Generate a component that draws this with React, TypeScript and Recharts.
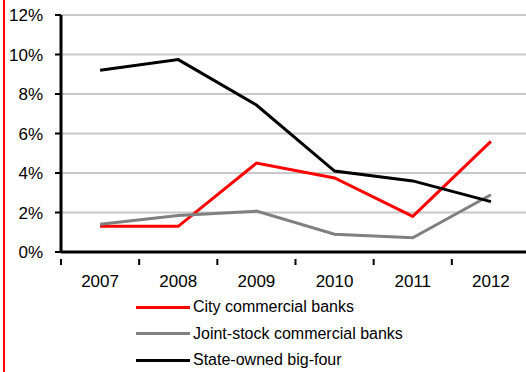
import { LineChart, Line, XAxis, YAxis, CartesianGrid } from "recharts";

const years = ["2007", "2008", "2009", "2010", "2011", "2012"];
const cityBanks = [1.3, 1.3, 4.5, 3.75, 1.8, 5.6];
const jointStock = [1.4, 1.85, 2.07, 0.9, 0.72, 2.9];
const bigFour = [9.2, 9.74, 7.44, 4.1, 3.6, 2.55];
const yTicks = [0, 2, 4, 6, 8, 10, 12];

const series = [
  { key: "city", name: "City commercial banks", color: "#ff0000" },
  { key: "joint", name: "Joint-stock commercial banks", color: "#808080" },
  { key: "big", name: "State-owned big-four", color: "#000000" },
];

const data = years.map((year, i) => ({
  year,
  city: cityBanks[i],
  joint: jointStock[i],
  big: bigFour[i],
}));

const FONT = "'Liberation Sans', Arial, sans-serif";

/** Category label plus a tick mark at the left edge of each band. */
function YearTick(props: any) {
  const { x, y, payload } = props;
  const half = payload?.offset || 39;
  return (
    <g>
      <line x1={x - half} x2={x - half} y1={y - 1} y2={y + 5} stroke="#000" strokeWidth={2} />
      <text x={x} y={y + 27} textAnchor="middle" fontSize={17} fontFamily={FONT} fill="#000">
        {payload.value}
      </text>
    </g>
  );
}

function LegendBox() {
  return (
    <div style={{ position: "absolute", left: 136, top: 294, fontFamily: FONT, fontSize: 16, color: "#000" }}>
      {series.map((s) => (
        <div key={s.key} style={{ display: "flex", alignItems: "center", height: 26.5 }}>
          <div style={{ width: 54, height: 3, background: s.color, marginRight: 3 }} />
          <span>{s.name}</span>
        </div>
      ))}
    </div>
  );
}

export default function App() {
  return (
    <div style={{ position: "absolute", left: 0, top: 0, width: 526, height: 372, overflow: "hidden", background: "#fff" }}>
      <div style={{ position: "absolute", left: 3, top: 0, width: 2, height: 372, background: "#ff0000" }} />
      <LineChart width={530} height={372} data={data} margin={{ top: 15, right: 0, left: 0, bottom: 0 }}>
        <CartesianGrid vertical={false} stroke="#c8c8c8" strokeWidth={2} />
        <XAxis
          dataKey="year"
          scale="band"
          height={120}
          axisLine={{ stroke: "#000", strokeWidth: 3 }}
          tickLine={false}
          tick={<YearTick />}
          interval={0}
        />
        <YAxis
          width={61}
          domain={[0, 12]}
          ticks={yTicks}
          tickFormatter={(v: number) => `${v}%`}
          axisLine={{ stroke: "#000", strokeWidth: 3 }}
          tickLine={{ stroke: "#000", strokeWidth: 2 }}
          tickSize={6}
          tickMargin={12}
          tick={{ fill: "#000", fontSize: 17, fontFamily: FONT }}
          interval={0}
        />
        {series.map((s) => (
          <Line
            key={s.key}
            type="linear"
            dataKey={s.key}
            name={s.name}
            stroke={s.color}
            strokeWidth={3}
            dot={false}
            activeDot={false}
            isAnimationActive={false}
          />
        ))}
      </LineChart>
      <LegendBox />
    </div>
  );
}
